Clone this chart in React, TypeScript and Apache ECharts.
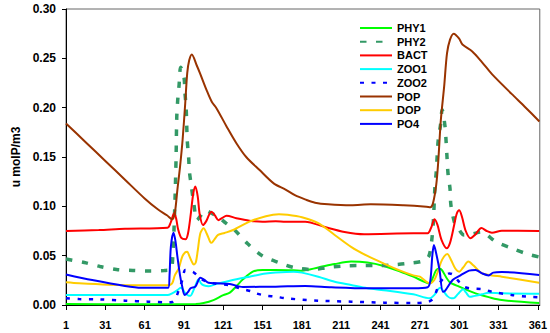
import React, { useEffect, useRef } from "react";
import * as echarts from "echarts";

// [day, value] pairs
const PHY1: [number, number][] = [
  [1, 0.001], [50, 0.0008], [100, 0.001], [106, 0.002], [113.5, 0.005], [121, 0.01], [126, 0.0125],
  [131, 0.019], [136, 0.026], [143.5, 0.0338], [151, 0.0355], [161, 0.0355], [174.7, 0.0352],
  [181, 0.0348], [193.5, 0.038], [206, 0.0415], [218.5, 0.044], [231, 0.043], [243.5, 0.0395],
  [256, 0.0338], [266, 0.0287], [278.5, 0.022], [281, 0.028], [283.5, 0.0355], [286, 0.037],
  [288, 0.035], [293.5, 0.0235], [301, 0.0186], [313.5, 0.0118], [323.5, 0.008], [333.5, 0.005],
  [362, 0.002],
];

const PHY2: [number, number][] = [
  [1, 0.0466], [15, 0.043], [27, 0.039], [39.5, 0.036], [52, 0.035], [63.5, 0.0345], [76, 0.035],
  [81, 0.036], [82.5, 0.05], [83.5, 0.08], [84.3, 0.113], [85, 0.15], [85.5, 0.19], [86.2, 0.207],
  [87.3, 0.223], [88.5, 0.241], [91, 0.231], [91.7, 0.216], [92.7, 0.199], [93.5, 0.167],
  [94.5, 0.151], [95.2, 0.135], [96.7, 0.12], [98.5, 0.103], [101, 0.086], [104, 0.091],
  [107, 0.096], [112, 0.093], [117, 0.0895], [123, 0.083], [129.7, 0.076], [139.7, 0.062],
  [151, 0.0497], [163.5, 0.043], [175, 0.038], [188.5, 0.036], [200.5, 0.038], [212, 0.0395],
  [224.7, 0.04], [236.5, 0.04], [248.5, 0.0405], [261, 0.042], [273.5, 0.0446], [278, 0.05],
  [280.5, 0.071], [281.5, 0.09], [282.5, 0.12], [283.5, 0.135], [284.2, 0.151], [285, 0.167],
  [286.8, 0.183], [288, 0.198], [290.2, 0.181], [291, 0.166], [291.7, 0.15], [292.5, 0.133],
  [294, 0.118], [294.7, 0.101], [297.3, 0.084], [298.5, 0.082], [304.8, 0.071], [311, 0.072],
  [317.7, 0.074], [329, 0.064], [341, 0.0575], [353, 0.0517], [362, 0.0486],
];

const BACT: [number, number][] = [
  [1, 0.075], [26, 0.076], [46, 0.0773], [78.5, 0.0784], [81, 0.084], [83.5, 0.093], [85, 0.088],
  [86.5, 0.077], [89, 0.068], [92.2, 0.0666], [94, 0.072], [96, 0.09], [98, 0.112], [99.7, 0.12],
  [101.5, 0.11], [103, 0.092], [105.5, 0.081], [108, 0.085], [110, 0.091], [112, 0.0946],
  [114.5, 0.091], [117.3, 0.086], [120, 0.088], [123.5, 0.0905], [131, 0.088], [141, 0.0855],
  [151, 0.0845], [161, 0.085], [168.5, 0.0845], [183.5, 0.0845], [198.5, 0.079], [213.5, 0.074],
  [228.5, 0.0717], [266, 0.0727], [277, 0.0727], [279.5, 0.078], [282.2, 0.087], [284.5, 0.081],
  [287.5, 0.066], [291.5, 0.0575], [294, 0.063], [297, 0.08], [299, 0.092], [301, 0.096],
  [303, 0.09], [306, 0.075], [309.7, 0.0676], [313, 0.071], [318, 0.078], [322, 0.075],
  [326, 0.0733], [333.5, 0.0753], [362, 0.075],
];

const ZOO1: [number, number][] = [
  [1, 0.0101], [78.5, 0.0101], [82, 0.0118], [86, 0.015], [88.5, 0.0175], [90, 0.016], [92, 0.012],
  [94.7, 0.0095], [96, 0.0095], [98, 0.014], [101, 0.024], [102, 0.026], [104, 0.022], [106, 0.02],
  [110, 0.019], [116, 0.0215], [126, 0.0246], [141, 0.0287], [153.5, 0.032], [161, 0.033],
  [174.7, 0.0338], [181, 0.0328], [193.5, 0.0287], [206, 0.0236], [218.5, 0.0203], [231, 0.017],
  [243.5, 0.015], [266, 0.0108], [278.5, 0.0068], [282, 0.0101], [285, 0.016], [286.5, 0.0175],
  [289, 0.014], [292, 0.009], [295, 0.0068], [297, 0.007], [300, 0.011], [304, 0.016],
  [306, 0.013], [309, 0.0084], [312, 0.009], [318.5, 0.0108], [323.5, 0.0125], [333.5, 0.0118],
  [362, 0.0115],
];

const ZOO2: [number, number][] = [
  [1, 0.0068], [11, 0.006], [27, 0.0057], [46, 0.0044], [63.5, 0.0034], [78.5, 0.0027], [82, 0.003],
  [84.7, 0.0068], [87, 0.015], [89.7, 0.025], [92, 0.0355], [95, 0.035], [98.5, 0.033],
  [102, 0.029], [106, 0.025], [113.5, 0.022], [126, 0.02], [131, 0.018], [136, 0.016],
  [143.5, 0.0135], [146, 0.0118], [153.5, 0.0095], [161, 0.0085], [168.5, 0.0068], [193.5, 0.0044],
  [218.5, 0.0034], [243.5, 0.0024], [266, 0.002], [277, 0.003], [280, 0.005], [282, 0.0084],
  [286, 0.022], [291, 0.03], [293.5, 0.032], [296, 0.031], [300, 0.025], [303.5, 0.0193],
  [308.5, 0.017], [318.5, 0.016], [326, 0.0135], [341, 0.0101], [353.5, 0.0084], [362, 0.0078],
];

const POP: [number, number][] = [
  [1, 0.184], [16, 0.165], [31, 0.146], [46, 0.127], [61, 0.108], [71, 0.097], [78, 0.091],
  [82, 0.087], [84, 0.093], [86, 0.117], [88, 0.14], [90, 0.168], [92, 0.205], [93.5, 0.235],
  [95, 0.248], [97, 0.254], [100.7, 0.243], [103.2, 0.235], [108.2, 0.218], [112.2, 0.206],
  [116, 0.199], [123.5, 0.181], [131, 0.164], [138.5, 0.15], [148.5, 0.137], [159.7, 0.123],
  [168.5, 0.117], [176, 0.111], [183.5, 0.107], [191, 0.1037], [201, 0.102], [218.5, 0.101],
  [233.5, 0.102], [258.5, 0.101], [276, 0.0996], [279, 0.099], [281, 0.103], [283.5, 0.122],
  [285, 0.145], [287, 0.1875], [289.5, 0.221], [291.7, 0.255], [294, 0.269], [296.8, 0.275],
  [301, 0.27], [303.5, 0.264], [311, 0.257], [318.5, 0.246], [326, 0.234], [341, 0.214],
  [351, 0.201], [362.2, 0.186],
];

const DOP: [number, number][] = [
  [1, 0.023], [11, 0.022], [33.5, 0.0206], [58.5, 0.02], [78.5, 0.02], [82, 0.022], [84, 0.03],
  [87, 0.037], [89.7, 0.049], [92, 0.0535], [93.5, 0.054], [95, 0.05], [97, 0.044], [98.5, 0.041],
  [100, 0.043], [101.5, 0.055], [103.5, 0.0727], [106, 0.0777], [108.5, 0.072], [111, 0.064],
  [112, 0.063], [114, 0.066], [117, 0.071], [122, 0.073], [128.5, 0.076], [141, 0.0845],
  [153.5, 0.09], [163.5, 0.092], [170, 0.0915], [181, 0.089], [193.5, 0.083], [206, 0.071],
  [218.5, 0.059], [231, 0.0497], [243.5, 0.042], [256, 0.0348], [266, 0.03], [271, 0.0287],
  [278.5, 0.022], [282, 0.0253], [285, 0.035], [288, 0.046], [292, 0.0517], [295, 0.045],
  [298, 0.037], [301, 0.0338], [304, 0.038], [308, 0.044], [312, 0.04], [318.5, 0.032],
  [326, 0.03], [333.5, 0.0287], [362, 0.0226],
];

const PO4: [number, number][] = [
  [1, 0.031], [21, 0.0253], [46, 0.0193], [58.5, 0.0175], [79, 0.0175], [80, 0.03], [81, 0.059],
  [83, 0.0733], [84.5, 0.065], [86, 0.049], [88, 0.03], [89.7, 0.0186], [91.5, 0.0101], [94, 0.013],
  [96, 0.017], [99.7, 0.0186], [103.5, 0.0275], [106, 0.026], [109.7, 0.0225], [116, 0.022],
  [126, 0.0213], [136, 0.0183], [161, 0.0186], [183.5, 0.0193], [203.5, 0.018], [231, 0.017],
  [266, 0.017], [277, 0.018], [279, 0.025], [280.5, 0.05], [281.7, 0.0608], [283, 0.055],
  [286, 0.0355], [288.5, 0.0135], [290, 0.014], [296, 0.0253], [302, 0.03], [308.5, 0.0348],
  [313.5, 0.0355], [318.5, 0.032], [323.5, 0.03], [327, 0.0328], [333.5, 0.0334], [362, 0.0305],
];

const X_TICKS = [1, 31, 61, 91, 121, 151, 181, 211, 241, 271, 301, 331, 361];
const Y_MAX = 0.3;
const Y_STEP = 0.05;

const FONT = "'Liberation Sans', Arial, sans-serif";

type S = { name: string; data: [number, number][]; color: string; width: number; type: any };

const SERIES: S[] = [
  { name: "PHY1", data: PHY1, color: "#00FF00", width: 2, type: "solid" },
  { name: "PHY2", data: PHY2, color: "#339966", width: 3.5, type: [6.5, 9.5] },
  { name: "BACT", data: BACT, color: "#FF0000", width: 2, type: "solid" },
  { name: "ZOO1", data: ZOO1, color: "#00FFFF", width: 2, type: "solid" },
  { name: "ZOO2", data: ZOO2, color: "#0000FF", width: 2.5, type: [4, 7.5] },
  { name: "POP", data: POP, color: "#993300", width: 2, type: "solid" },
  { name: "DOP", data: DOP, color: "#FFCC00", width: 2, type: "solid" },
  { name: "PO4", data: PO4, color: "#0000FF", width: 2, type: "solid" },
];

export default function App() {
  const ref = useRef<HTMLDivElement>(null);
  useEffect(() => {
    if (!ref.current) return;
    const chart = echarts.init(ref.current, undefined, { renderer: "svg" });
    chart.setOption({
      animation: false,
      backgroundColor: "#fff",
      grid: {
        left: 66,
        right: 2,
        top: 9,
        bottom: 28,
        show: true,
        borderColor: "#666",
        borderWidth: 1,
        backgroundColor: "transparent",
      },
      legend: {
        orient: "vertical",
        left: 354,
        top: 17,
        itemWidth: 32,
        itemHeight: 12,
        itemGap: 1.7,
        itemStyle: { opacity: 0 },
        data: SERIES.map((s) => s.name),
        textStyle: { fontFamily: FONT, fontWeight: "bold", fontSize: 11, color: "#000", lineHeight: 12 },
      },
      xAxis: {
        type: "value",
        min: 0,
        max: 361.5,
        splitLine: { show: false },
        axisLine: { show: true, onZero: false, lineStyle: { color: "#000", width: 1 } },
        axisTick: {
          show: true,
          length: 5,
          lineStyle: { color: "#000" },
          customValues: X_TICKS.map((d) => d - 1),
        },
        axisLabel: {
          customValues: X_TICKS.map((d) => d - 1),
          formatter: (v: number) => String(Math.round(v + 1)),
          fontFamily: FONT,
          fontWeight: "bold",
          fontSize: 11,
          color: "#000",
          margin: 14,
        },
      },
      yAxis: {
        type: "value",
        min: 0,
        max: Y_MAX,
        interval: Y_STEP,
        name: "u molP/m3",
        nameLocation: "middle",
        nameGap: 44,
        nameTextStyle: { fontFamily: FONT, fontWeight: "bold", fontSize: 12, color: "#000" },
        splitLine: { show: false },
        axisLine: { show: true, lineStyle: { color: "#000", width: 1 } },
        axisTick: { show: true, length: 4, lineStyle: { color: "#000" } },
        axisLabel: {
          formatter: (v: number) => v.toFixed(2),
          fontFamily: FONT,
          fontWeight: "bold",
          fontSize: 12,
          color: "#000",
          margin: 10,
        },
      },
      series: SERIES.map((s) => ({
        name: s.name,
        type: "line",
        data: s.data.map(([d, v]) => [d - 1, v]),
        symbol: "none",
        smooth: 0.3,
        itemStyle: { color: s.color },
        lineStyle: { color: s.color, width: s.width, type: s.type },
      })),
    });
    return () => chart.dispose();
  }, []);
  return (
    <div
      ref={ref}
      style={{ position: "fixed", left: 0, top: 0, width: 550, height: 333, background: "#fff" }}
    />
  );
}
